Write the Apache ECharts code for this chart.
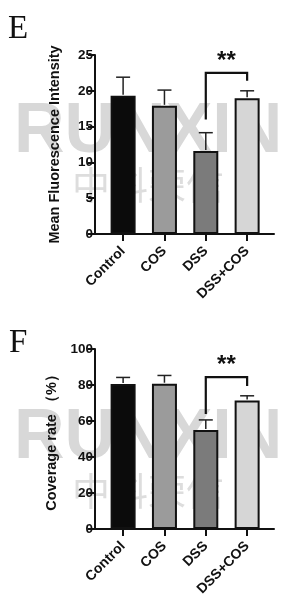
<!DOCTYPE html>
<html>
<head>
<meta charset="utf-8">
<script src="https://cdn.jsdelivr.net/npm/echarts@6/dist/echarts.min.js"></script>
<style>
  html, body { margin: 0; padding: 0; background: #fff; }
  #chart { width: 296px; height: 600px; }
</style>
</head>
<body>
<div id="chart"></div>
<script>
// 分组
const categories = ['Control', 'COS', 'DSS', 'DSS+COS']
const barColors = ['#0b0b0b', '#9b9b9b', '#7b7b7b', '#d6d6d6']

// E: 平均荧光强度
const mfiMean = [19.3, 17.9, 11.6, 18.95]
const mfiSd = [2.6, 2.2, 2.55, 1.05]
const mfiTicks = [0, 25, 5] // min, max, interval
const mfiSig = [16.0, 22.5, 21.4, 24.1] // 左脚, 顶, 右脚, 星号

// F: 覆盖率
const covMean = [80.5, 80.7, 55.0, 71.4]
const covSd = [3.7, 4.6, 5.6, 2.6]
const covTicks = [0, 100, 20]
const covSig = [63.9, 84.4, 79.5, 91.0]

const sigPair = [2, 3] // DSS vs DSS+COS
const font = '"Liberation Sans", Arial, sans-serif'

const chart = echarts.init(document.getElementById('chart'))

const xAxisOf = (gridIndex) => ({
  type: 'value',
  gridIndex,
  min: -0.68,
  max: 3.65,
  splitLine: { show: false },
  axisLine: { onZero: false, lineStyle: { color: '#111', width: 2 } },
  axisTick: { customValues: [0, 1, 2, 3], length: 7, lineStyle: { color: '#111', width: 2 } },
  axisLabel: {
    customValues: [0, 1, 2, 3],
    formatter: (v) => categories[Math.round(v)] || '',
    rotate: 45,
    margin: 15,
    color: '#111',
    fontFamily: font,
    fontWeight: 'bold',
    fontSize: 14
  }
})

const yAxisOf = (gridIndex, ticks, name) => ({
  type: 'value',
  gridIndex,
  min: ticks[0],
  max: ticks[1],
  interval: ticks[2],
  name,
  nameLocation: 'middle',
  nameGap: 33,
  nameTextStyle: { color: '#111', fontFamily: font, fontWeight: 'bold', fontSize: 14.5 },
  splitLine: { show: false },
  axisLine: { show: true, onZero: false, lineStyle: { color: '#111', width: 2 } },
  axisTick: { show: true, length: 7, lineStyle: { color: '#111', width: 2 } },
  axisLabel: { color: '#111', fontFamily: font, fontWeight: 'bold', fontSize: 13.5, margin: 2 }
})

const barsOf = (idx, mean) => ({
  type: 'bar',
  xAxisIndex: idx,
  yAxisIndex: idx,
  barWidth: 25,
  z: 3,
  data: mean.map((v, i) => ({
    value: [i, v],
    itemStyle: { color: barColors[i], borderColor: '#111', borderWidth: 2 }
  }))
})

const errorsOf = (idx, mean, sd) => ({
  type: 'custom',
  xAxisIndex: idx,
  yAxisIndex: idx,
  z: 4,
  data: mean.map((v, i) => [i, v, v + sd[i]]),
  renderItem: (params, api) => {
    const lo = api.coord([api.value(0), api.value(1)])
    const hi = api.coord([api.value(0), api.value(2)])
    const style = { stroke: '#222', lineWidth: 1.5 }
    return {
      type: 'group',
      children: [
        { type: 'line', shape: { x1: lo[0], y1: lo[1] - 1, x2: hi[0], y2: hi[1] }, style },
        { type: 'line', shape: { x1: hi[0] - 7, y1: hi[1], x2: hi[0] + 7, y2: hi[1] }, style }
      ]
    }
  }
})

const sigOf = (idx, sig) => ({
  type: 'custom',
  xAxisIndex: idx,
  yAxisIndex: idx,
  z: 5,
  data: [[sigPair[0], sigPair[1], sig[0], sig[1], sig[2], sig[3]]],
  renderItem: (params, api) => {
    const a = api.coord([api.value(0), api.value(2)])
    const b = api.coord([api.value(0), api.value(3)])
    const c = api.coord([api.value(1), api.value(3)])
    const d = api.coord([api.value(1), api.value(4)])
    const s = api.coord([(api.value(0) + api.value(1)) / 2, api.value(5)])
    return {
      type: 'group',
      children: [
        {
          type: 'polyline',
          shape: { points: [a, b, c, d] },
          style: { stroke: '#111', lineWidth: 2.2, fill: null }
        },
        {
          type: 'text',
          style: {
            x: s[0], y: s[1], text: '**', fill: '#111',
            font: 'bold 24px ' + font, align: 'center', verticalAlign: 'middle'
          }
        }
      ]
    }
  }
})

const watermark = (top) => ([
  {
    type: 'text', left: 14, top: top, z: -10, silent: true,
    style: { text: 'RUNXIN', fill: '#d8d8d8', font: 'bold 70px ' + font }
  },
  {
    type: 'text', left: 72, top: top + 68, z: -10, silent: true,
    style: { text: '中科荣信', fill: '#dddddd', font: '38px "Noto Sans CJK SC"' }
  }
])

chart.setOption({
  animation: false,
  grid: [
    { left: 95, top: 55, width: 179, height: 179 },
    { left: 95, top: 349, width: 179, height: 180 }
  ],
  xAxis: [xAxisOf(0), xAxisOf(1)],
  yAxis: [
    yAxisOf(0, mfiTicks, 'Mean Fluorescence Intensity'),
    yAxisOf(1, covTicks, 'Coverage rate （%）')
  ],
  series: [
    barsOf(0, mfiMean), errorsOf(0, mfiMean, mfiSd), sigOf(0, mfiSig),
    barsOf(1, covMean), errorsOf(1, covMean, covSd), sigOf(1, covSig)
  ],
  graphic: [
    ...watermark(98),
    ...watermark(404),
    {
      type: 'text', left: 8, top: 13,
      style: { text: 'E', fill: '#111', font: '33px "Liberation Serif", "Times New Roman", serif' }
    },
    {
      type: 'text', left: 9, top: 327,
      style: { text: 'F', fill: '#111', font: '33px "Liberation Serif", "Times New Roman", serif' }
    }
  ]
})
</script>
</body>
</html>
